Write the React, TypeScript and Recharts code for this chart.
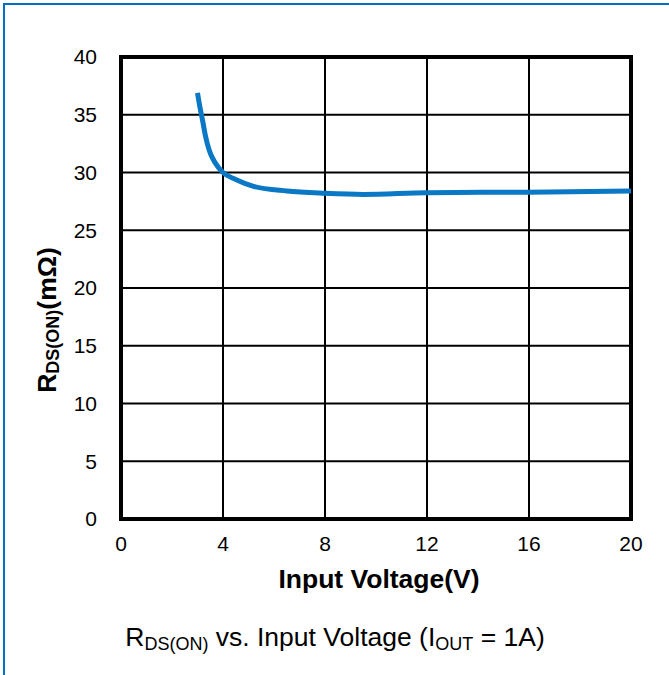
import { LineChart, Line, XAxis, YAxis, CartesianGrid, ReferenceArea, Label } from "recharts";

const voltage = [3.0, 3.1, 3.2, 3.3, 3.45, 3.6, 3.8, 4.0, 4.5, 5.2, 6.5, 8, 9.5, 12, 16, 20];
const rdsOn = [36.9, 35.6, 34.5, 33.3, 32.0, 31.2, 30.5, 30.0, 29.4, 28.8, 28.4, 28.2, 28.1, 28.25, 28.3, 28.4];
const xTicks = [0, 4, 8, 12, 16, 20];
const yTicks = [0, 5, 10, 15, 20, 25, 30, 35, 40];

const data = voltage.map((v, i) => ({ v, r: rdsOn[i] }));

const font = '"Liberation Sans", Arial, sans-serif';

function YLabel(props: any) {
  const { viewBox } = props;
  const cx = 47;
  const cy = viewBox.y + viewBox.height / 2 + 32;
  return (
    <text
      x={cx}
      y={cy}
      transform={`rotate(-90 ${cx} ${cy})`}
      textAnchor="middle"
      dominantBaseline="central"
      fontFamily={font}
      fontWeight="bold"
      fontSize={26.5}
      fill="#000"
    >
      R<tspan fontSize={18} dy={6}>DS(ON)</tspan>
      <tspan dy={-6}>(mΩ)</tspan>
    </text>
  );
}

export default function App() {
  return (
    <div style={{ position: "absolute", left: 0, top: 0, width: 669, height: 675, background: "#fff", fontFamily: font }}>
      <div
        style={{
          position: "absolute",
          left: 3,
          top: 3,
          width: 666,
          height: 672,
          borderLeft: "2px solid #0070c0",
          borderTop: "2px solid #0070c0",
        }}
      />
      <LineChart
        width={669}
        height={675}
        data={data}
        margin={{ top: 57, right: 38, left: 0, bottom: 126 }}
        style={{ position: "absolute", left: 0, top: 0 }}
      >
        <CartesianGrid stroke="#000" strokeWidth={2} />
        <XAxis
          dataKey="v"
          type="number"
          domain={[0, 20]}
          ticks={xTicks}
          height={30}
          axisLine={false}
          tickLine={false}
          tickSize={0}
          tickMargin={17}
          tick={{ fill: "#000", fontSize: 21, fontFamily: font }}
        />
        <YAxis
          type="number"
          domain={[0, 40]}
          ticks={yTicks}
          width={121}
          axisLine={false}
          tickLine={false}
          tickSize={0}
          tickMargin={24}
          tick={{ fill: "#000", fontSize: 21, fontFamily: font }}
        >
          <Label content={<YLabel />} />
        </YAxis>
        <ReferenceArea x1={0} x2={20} y1={0} y2={40} fill="none" stroke="#000" strokeWidth={4} fillOpacity={0} />
        <Line
          type="monotone"
          dataKey="r"
          stroke="#0a78c4"
          strokeWidth={5}
          dot={false}
          isAnimationActive={false}
        />
      </LineChart>
      <div
        style={{
          position: "absolute",
          left: 0,
          width: 758,
          top: 564,
          textAlign: "center",
          fontWeight: "bold",
          fontSize: 26.5,
          color: "#000",
        }}
      >
        Input Voltage(V)
      </div>
      <div
        style={{
          position: "absolute",
          left: 0,
          width: 670,
          top: 622,
          textAlign: "center",
          fontSize: 26.5,
          color: "#000",
        }}
      >
        R<sub style={{ fontSize: 18, verticalAlign: "-4px" }}>DS(ON)</sub> vs. Input Voltage (I
        <sub style={{ fontSize: 18, verticalAlign: "-4px" }}>OUT</sub> = 1A)
      </div>
    </div>
  );
}
